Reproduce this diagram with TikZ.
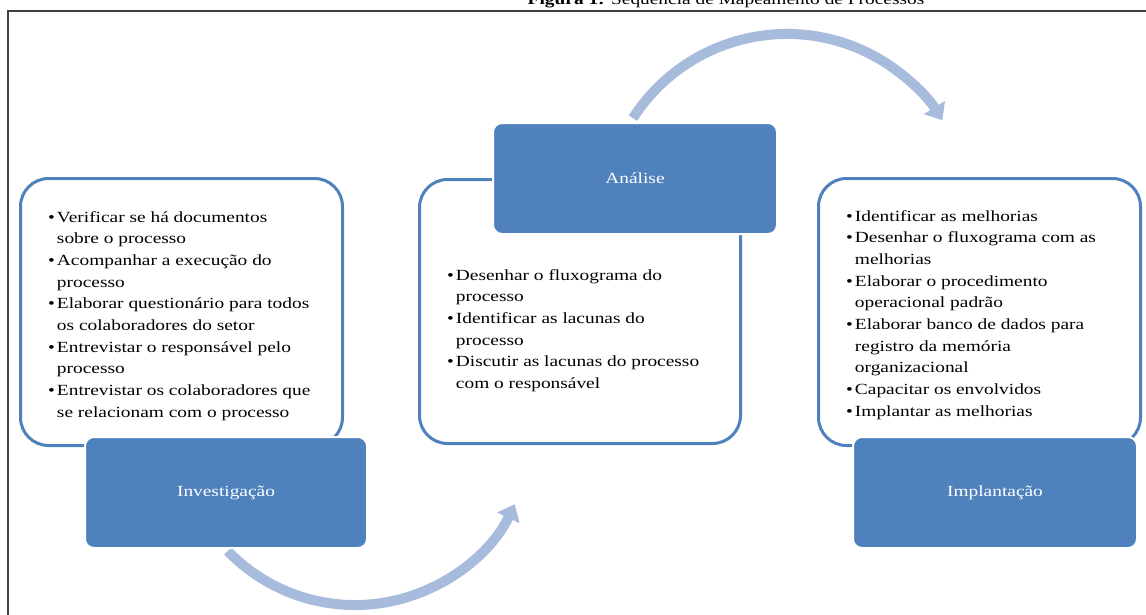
\documentclass[tikz,border=0pt]{standalone}
\usepackage{fontspec}
\setmainfont{Liberation Serif}[FakeStretch=1.25]
\usetikzlibrary{arrows.meta}
\definecolor{boxblue}{RGB}{79,129,189}
\definecolor{arcblue}{RGB}{167,187,220}
\definecolor{framegray}{RGB}{64,64,64}
\begin{document}
\begin{tikzpicture}[x=1pt,y=-1pt,
  whitebox/.style={draw=boxblue, line width=3pt, fill=white, rounded corners=28pt, inner sep=0pt},
  bluebox/.style={draw=white, line width=2pt, fill=boxblue, rounded corners=9pt, text=white,
    font=\fontsize{15.5}{18}\selectfont, minimum width=284pt, minimum height=111pt, inner sep=0pt},
  bullets/.style={anchor=base west, inner sep=0pt, align=left, font=\fontsize{15.5}{21.7}\selectfont},
  flow/.style={draw=arcblue, line width=10pt, -{Triangle[width=24pt,length=15pt]}},
  framestyle/.style={draw=framegray, line width=2pt}]
\clip (0,0) rectangle (1146,614);
% title
\node[anchor=base, inner sep=0pt, font=\fontsize{15.5}{18}\selectfont] (title) at (726,4)
  {\textbf{Figura 1:} Sequência de Mapeamento de Processos};
% frame
\coordinate (fr1) at (1170,11);
\coordinate (fr2) at (8,11);
\coordinate (fr3) at (8,640);
\draw[framestyle] (fr1) -- (fr2) -- (fr3);
% arcs
\coordinate (anatop) at (633,118.1);
\draw[flow] (anatop) arc[start angle=212.7, end angle=328.1, radius=183];
\coordinate (invbot) at (227.7,551);
\draw[flow] (invbot) arc[start angle=136, end angle=25.5, radius=177];
% white boxes
\node[whitebox, minimum width=322pt, minimum height=267pt] (w1) at (181.5,312) {};
\node[whitebox, minimum width=321pt, minimum height=264pt] (w2) at (580,311.5) {};
\node[whitebox, minimum width=322pt, minimum height=267pt] (w3) at (979.5,312) {};
% bullet texts
\node[bullets] (t1) at (48,222) {\begin{tabular}[t]{@{}l@{\hspace{2pt}}l@{}}
\textbullet & Verificar se há documentos\\
 & sobre o processo\\
\textbullet & Acompanhar a execução do\\
 & processo\\
\textbullet & Elaborar questionário para todos\\
 & os colaboradores do setor\\
\textbullet & Entrevistar o responsável pelo\\
 & processo\\
\textbullet & Entrevistar os colaboradores que\\
 & se relacionam com o processo
\end{tabular}};
\node[bullets] (t2) at (447,280) {\begin{tabular}[t]{@{}l@{\hspace{2pt}}l@{}}
\textbullet & Desenhar o fluxograma do\\
 & processo\\
\textbullet & Identificar as lacunas do\\
 & processo\\
\textbullet & Discutir as lacunas do processo\\
 & com o responsável
\end{tabular}};
\node[bullets] (t3) at (846,221) {\begin{tabular}[t]{@{}l@{\hspace{2pt}}l@{}}
\textbullet & Identificar as melhorias\\
\textbullet & Desenhar o fluxograma com as\\
 & melhorias\\
\textbullet & Elaborar o procedimento\\
 & operacional padrão\\
\textbullet & Elaborar banco de dados para\\
 & registro da memória\\
 & organizacional\\
\textbullet & Capacitar os envolvidos\\
\textbullet & Implantar as melhorias
\end{tabular}};
% blue boxes
\node[bluebox, minimum width=282pt] (inv) at (226,492.5) {Investigação};
\node[bluebox] (ana) at (635,178.5) {Análise};
\node[bluebox] (imp) at (995,492.5) {Implantação};
\end{tikzpicture}
\end{document}
